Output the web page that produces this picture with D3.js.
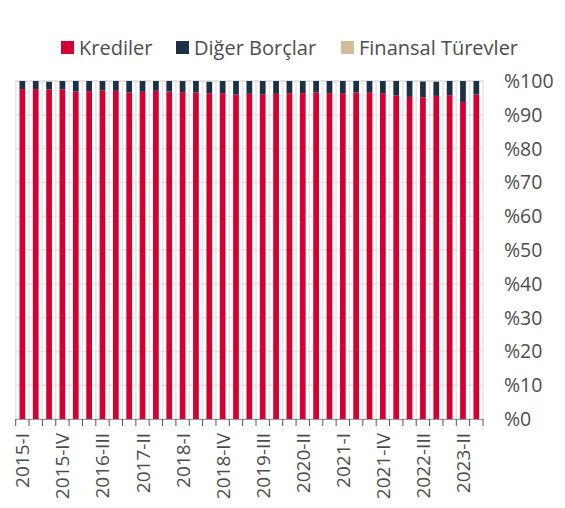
<!DOCTYPE html>
<html>
<head>
<meta charset="utf-8">
<script src="https://cdn.jsdelivr.net/npm/d3@7/dist/d3.min.js"></script>
<style>
  body { margin: 0; background: #fff; }
  svg { font-family: "Open Sans", sans-serif; }
</style>
</head>
<body>
<div id="chart"></div>
<script>
var years = [2015, 2016, 2017, 2018, 2019, 2020, 2021, 2022, 2023];
var romans = ["I", "II", "III", "IV"];
var quarters = [];
years.forEach(function(y) {
    romans.forEach(function(r) { quarters.push(y + "-" + r); });
});
quarters = quarters.slice(0, 35);

var krediler = [97.6, 97.6, 97.5, 97.5, 96.9, 97.0, 97.2, 97.1, 96.6, 96.8,
                97.1, 96.9, 96.7, 96.6, 96.4, 96.4, 96.0, 96.2, 96.1, 96.2,
                96.4, 96.4, 96.6, 96.4, 96.4, 96.6, 96.7, 96.4, 95.7, 95.3,
                95.2, 95.6, 95.8, 93.8, 96.0];
var turevler = [0.0, 0.0, 0.2, 0.0, 0.0, 0.0, 0.0, 0.0, 0.0, 0.0,
                0.0, 0.0, 0.0, 0.0, 0.2, 0.0, 0.0, 0.0, 0.0, 0.0,
                0.0, 0.0, 0.0, 0.0, 0.0, 0.0, 0.0, 0.0, 0.0, 0.0,
                0.1, 0.2, 0.0, 0.0, 0.0];
var digerBorclar = krediler.map(function(k, i) { return 100 - k - turevler[i]; });

var seriesNames = ["Krediler", "Diğer Borçlar", "Finansal Türevler"];
var seriesColors = ["#d50032", "#1c3046", "#d3bd99"];
var yTicks = [0, 10, 20, 30, 40, 50, 60, 70, 80, 90, 100];

var width = 565, height = 508;

var rows = quarters.map(function(q, i) {
    return {q: q, "Krediler": krediler[i], "Diğer Borçlar": digerBorclar[i], "Finansal Türevler": turevler[i]};
});

var svg = d3.select("#chart").append("svg")
    .attr("width", width)
    .attr("height", height);

var x = d3.scaleBand()
    .domain(quarters)
    .range([15.7, 483])
    .paddingInner(0.57)
    .paddingOuter(0.285);

var y = d3.scaleLinear()
    .domain([0, 100])
    .range([419, 81]);

var step = x.step();
var bounds = d3.range(quarters.length + 1).map(function(i) { return 15.7 + i * step; });

// grid
svg.append("g").selectAll("line.h")
    .data(yTicks)
    .enter().append("line")
    .attr("x1", 15.7).attr("x2", 483)
    .attr("y1", function(d) { return y(d); })
    .attr("y2", function(d) { return y(d); })
    .attr("stroke", "#e3e3e3")
    .attr("stroke-width", function(d) { return d === 100 ? 2 : 1.5; });

svg.append("g").selectAll("line.v")
    .data(bounds)
    .enter().append("line")
    .attr("x1", function(d) { return d; }).attr("x2", function(d) { return d; })
    .attr("y1", y(100)).attr("y2", y(0))
    .attr("stroke", "#e6e6e6")
    .attr("stroke-width", 1.5);

// bars
var stack = d3.stack().keys(seriesNames)(rows);

svg.append("g").selectAll("g")
    .data(stack)
    .enter().append("g")
    .attr("fill", function(d, i) { return seriesColors[i]; })
    .selectAll("rect")
    .data(function(d) { return d; })
    .enter().append("rect")
    .attr("x", function(d) { return x(d.data.q); })
    .attr("width", x.bandwidth())
    .attr("y", function(d) { return y(d[1]); })
    .attr("height", function(d) { return y(d[0]) - y(d[1]); });

// x axis
svg.append("line")
    .attr("x1", 15.7).attr("x2", 483)
    .attr("y1", 419.5).attr("y2", 419.5)
    .attr("stroke", "#999").attr("stroke-width", 1);

svg.append("g").selectAll("line")
    .data(bounds)
    .enter().append("line")
    .attr("x1", function(d) { return d; }).attr("x2", function(d) { return d; })
    .attr("y1", 419).attr("y2", 426)
    .attr("stroke", "#555").attr("stroke-width", 1);

svg.append("g").selectAll("text")
    .data(quarters.filter(function(d, i) { return i % 3 === 0; }))
    .enter().append("text")
    .attr("transform", function(d) {
        return "translate(" + (x(d) + x.bandwidth() / 2 + 7) + ",433) rotate(-90)";
    })
    .attr("text-anchor", "end")
    .attr("font-size", 19)
    .attr("fill", "#4d4d4d")
    .text(function(d) { return d; });

// y axis on right
svg.append("g").selectAll("text")
    .data(yTicks)
    .enter().append("text")
    .attr("x", 504)
    .attr("y", function(d) { return y(d) + 7; })
    .attr("font-size", 19.5)
    .attr("fill", "#4d4d4d")
    .text(function(d) { return "%" + d; });

// legend
var legendX = [61, 176, 341];
var legend = svg.append("g").selectAll("g")
    .data(seriesNames)
    .enter().append("g")
    .attr("transform", function(d, i) { return "translate(" + legendX[i] + ",41)"; });

legend.append("rect")
    .attr("width", 13).attr("height", 13)
    .attr("fill", function(d, i) { return seriesColors[i]; });

legend.append("text")
    .attr("x", 18).attr("y", 13.5)
    .attr("font-size", 20)
    .attr("fill", "#4d4d4d")
    .text(function(d) { return d; });
</script>
</body>
</html>
